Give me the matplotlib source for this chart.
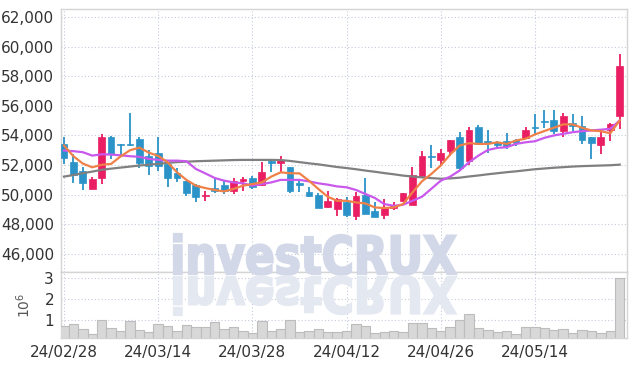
import numpy as np
import matplotlib.pyplot as plt
from matplotlib.textpath import TextPath
from matplotlib.patches import PathPatch
from matplotlib.font_manager import FontProperties
from matplotlib.transforms import Affine2D
from matplotlib.ticker import FuncFormatter

plt.rcParams['font.family'] = ['Liberation Sans Narrow', 'DejaVu Sans']

# 일봉 데이터 (시가, 고가, 저가, 종가)
opens = [53400, 52240, 51630, 50410, 51150, 53930, 53400, 53400, 53730, 52580,
         52850, 52080, 51470, 50900, 50680, 49900, 50450, 50680, 50220, 50900,
         51130, 50680, 52260, 52120, 51850, 50790, 50160, 50000, 49140, 49030,
         49480, 48580, 50000, 48920, 48620, 49100, 49590, 49320, 51290, 52640,
         52350, 52940, 53930, 52260, 54560, 53610, 53540, 53660, 53710, 53840,
         54550, 54980, 55070, 54300, 54840, 54610, 53880, 53390, 54390, 55290]
highs = [53930, 52780, 51900, 51200, 54070, 53950, 53450, 55500, 53870, 53050,
         53870, 52190, 51780, 50950, 50700, 50220, 51040, 50950, 51130, 51170,
         51290, 52190, 52420, 52580, 51900, 50900, 50500, 50090, 50220, 49800,
         49820, 50160, 51130, 49480, 49710, 49480, 50140, 51850, 52920, 53370,
         53100, 53710, 54220, 54560, 54730, 54390, 53600, 54150, 53750, 54560,
         55470, 55750, 55750, 55510, 55470, 55290, 53880, 54450, 54840, 59490]
lows = [52100, 50810, 50340, 50400, 50750, 52440, 52650, 53300, 51830, 51360,
        51630, 50540, 50830, 49890, 49480, 49590, 50090, 50050, 50050, 50270,
        50390, 50610, 51510, 51510, 50090, 50160, 49860, 49100, 49100, 48580,
        48510, 48280, 48690, 48510, 48390, 48960, 49480, 49320, 51130, 51810,
        52030, 52640, 51630, 52030, 53390, 52800, 53160, 53100, 53320, 53780,
        54070, 54520, 54120, 53930, 54290, 53430, 52420, 52760, 53660, 54450]
closes = [52500, 51360, 50810, 51080, 53930, 52780, 53350, 53350, 52170, 51970,
          51970, 51130, 51130, 50090, 49820, 49950, 50270, 50220, 50950, 51060,
          50500, 51560, 52120, 52350, 50270, 50660, 49930, 49100, 49550, 49710,
          48620, 49930, 48690, 48510, 49140, 49250, 50140, 51360, 52640, 52530,
          52820, 53710, 51810, 54340, 53430, 53480, 53390, 53320, 53480, 54340,
          54480, 54920, 54300, 55290, 54610, 53710, 53480, 53930, 54750, 58680]

# 이동평균선
ma_short = [53320, 52600, 52100, 51850, 52020, 52080, 52580, 53000, 53180, 52840,
            52620, 52190, 51510, 51000, 50610, 50450, 50320, 50220, 50390, 50610,
            50720, 50830, 51220, 51510, 51450, 51440, 50950, 50390, 49860, 49590,
            49590, 49480, 49410, 49140, 49100, 49140, 49370, 50160, 50900, 51400,
            51970, 52710, 53320, 53480, 53430, 53430, 53540, 53430, 53660, 53780,
            54070, 54300, 54520, 54750, 54750, 54520, 54340, 54290, 54150, 55020]
ma_mid = [52980, 52940, 52870, 52640, 52730, 52710, 52660, 52600, 52560, 52420,
          52350, 52300, 52300, 52260, 51740, 51440, 51130, 50950, 50830, 50770,
          50610, 50720, 50830, 51000, 51000, 51000, 50900, 50770, 50680, 50560,
          50500, 50320, 50050, 49780, 49370, 49250, 49320, 49590, 49860, 50400,
          50950, 51220, 51630, 52190, 52640, 53020, 53160, 53210, 53430, 53540,
          53610, 53840, 54000, 54110, 54220, 54290, 54340, 54390, 54450, 55020]
ma_long = [51220, 51330, 51450, 51560, 51680, 51760, 51830, 51900, 51970, 52030,
           52080, 52150, 52200, 52230, 52260, 52280, 52300, 52320, 52340, 52350,
           52350, 52350, 52350, 52340, 52280, 52200, 52120, 52050, 51960, 51870,
           51800, 51720, 51630, 51550, 51460, 51380, 51290, 51230, 51170, 51120,
           51080, 51100, 51150, 51230, 51300, 51380, 51450, 51520, 51580, 51650,
           51720, 51770, 51820, 51860, 51900, 51930, 51950, 51970, 51990, 52030]

# 거래량 (단위: 10^6)
volume = [0.76, 0.81, 0.60, 0.36, 1.03, 0.65, 0.52, 0.98, 0.55, 0.46,
          0.84, 0.76, 0.52, 0.79, 0.71, 0.71, 0.94, 0.60, 0.71, 0.52,
          0.41, 0.98, 0.52, 0.60, 1.03, 0.44, 0.52, 0.60, 0.46, 0.46,
          0.52, 0.81, 0.74, 0.41, 0.47, 0.52, 0.47, 0.86, 0.86, 0.66,
          0.52, 0.71, 1.00, 1.32, 0.62, 0.55, 0.47, 0.50, 0.36, 0.70,
          0.70, 0.65, 0.57, 0.60, 0.42, 0.55, 0.49, 0.42, 0.52, 3.00]

tick_idx = [0, 10, 20, 30, 40, 50]
tick_labels = ['24/02/28', '24/03/14', '24/03/28', '24/04/12', '24/04/26', '24/05/14']

UP = '#e91e63'
DOWN = '#2b93c8'
GRID = '#c6cadc'
SPINE = '#d4d4d4'

fig = plt.figure(figsize=(6.34, 3.66), dpi=100)
ax = fig.add_axes([0.0962, 0.2568, 0.8927, 0.7178])
axv = fig.add_axes([0.0962, 0.0765, 0.8927, 0.1803], sharex=ax)

x = np.arange(len(opens))
o = np.array(opens)
c = np.array(closes)
colors = [UP if cc >= oo else DOWN for oo, cc in zip(o, c)]
bottom = np.minimum(o, c)
height = np.maximum(np.abs(c - o), 90)

ax.vlines(x, lows, highs, colors=colors, linewidth=1.3, zorder=3)
ax.bar(x, height, bottom=bottom, width=0.72, color=colors, edgecolor=colors, linewidth=0.5, zorder=4)

ax.plot(x, ma_long, color='#808080', linewidth=1.6, zorder=5)
ax.plot(x, ma_mid, color='#c958ec', linewidth=1.6, zorder=5)
ax.plot(x, ma_short, color='#ef8148', linewidth=1.6, zorder=6)

axv.bar(x, volume, width=1.0, color='#d8d8d8', edgecolor='#bcbcbc', linewidth=0.8, zorder=3)

ax.set_xlim(-0.32, 59.77)
ax.set_ylim(44780, 62520)
ax.set_yticks(np.arange(46000, 62001, 2000))
ax.yaxis.set_major_formatter(FuncFormatter(lambda v, p: f'{v:,.0f}'))
axv.set_ylim(0.17, 3.29)
axv.set_yticks([1, 2, 3])
axv.set_xticks(tick_idx)
axv.set_xticklabels(tick_labels)
ax.tick_params(labelbottom=False)

for a in (ax, axv):
    a.grid(True, color=GRID, linestyle=(0, (1, 2)), linewidth=0.8)
    a.set_axisbelow(True)
    a.tick_params(length=0, labelsize=11, colors='#333333', pad=5)
    for s in a.spines.values():
        s.set_color(SPINE)
        s.set_linewidth(1.0)

axv.set_ylabel(r'$10^6$', fontsize=10, color='#555555', labelpad=8)

# 워터마크 (반사 포함)
fp = FontProperties(family='DejaVu Sans', weight='bold')
tp = TextPath((0, 0), 'investCRUX', size=100, prop=fp)
ext = tp.get_extents()
H = 366
sx = 282 / ext.width
sy = 40 / ext.y1
x0 = 174 - ext.x0 * sx
base = H - 274
wm = PathPatch(tp, transform=Affine2D().scale(sx, sy).translate(x0, base),
               facecolor='#d2d8e8', edgecolor='#d2d8e8', linewidth=1.6, zorder=2)
fig.add_artist(wm)
wr = PathPatch(tp, transform=Affine2D().scale(sx, -sy * 0.95).translate(x0, base - 3),
               facecolor='#e4e8f1', edgecolor='#e4e8f1', linewidth=1.6, zorder=2)
fig.add_artist(wr)

fig.savefig('out.png', dpi=100)
